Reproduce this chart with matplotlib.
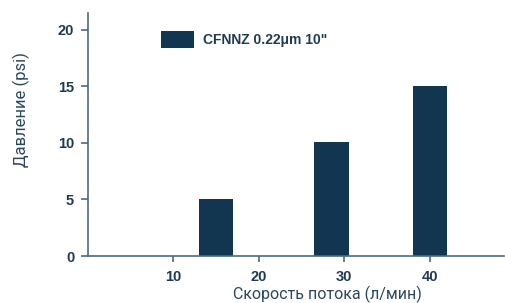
import matplotlib
matplotlib.use('Agg')
import matplotlib.pyplot as plt

# flow rate (l/min) and pressure drop (psi)
flow = [15, 28.5, 40]
pressure = [5, 10.1, 15]
series_name = 'CFNNZ 0.22μm 10"'
x_ticks = [10, 20, 30, 40]
y_ticks = [0, 5, 10, 15, 20]

bar_color = '#12364f'
axis_color = '#4d6a80'
text_color = '#1f3b52'

fig = plt.figure(figsize=(5.05, 3.03), dpi=100)
ax = fig.add_axes([0.1743, 0.155, 0.8237, 0.803])

ax.bar(flow, pressure, width=4, color=bar_color, label=series_name)

ax.set_xlim(0, 48.7)
ax.set_ylim(0, 21.5)
ax.set_xticks(x_ticks)
ax.set_yticks(y_ticks)

for side in ['top', 'right']:
    ax.spines[side].set_visible(False)
for side in ['left', 'bottom']:
    ax.spines[side].set_color(axis_color)
    ax.spines[side].set_linewidth(1.2)

ax.tick_params(axis='x', length=4, width=1.2, color=axis_color, pad=6)
ax.tick_params(axis='y', length=5, width=1.2, color=axis_color, pad=5)
for lbl in ax.get_xticklabels() + ax.get_yticklabels():
    lbl.set_fontfamily('Liberation Sans')
    lbl.set_fontweight('bold')
    lbl.set_fontsize(10.5)
    lbl.set_color(text_color)

ax.set_xlabel('Скорость потока (л/мин)', fontfamily='Roboto', fontsize=11.5,
              color='#2b475c')
ax.xaxis.set_label_coords(0.575, -0.122)
ax.set_ylabel('Давление (psi)', fontfamily='Roboto', fontsize=12,
              color='#2b475c')
ax.yaxis.set_label_coords(-0.14, 0.6)

leg = ax.legend(loc='upper left', bbox_to_anchor=(0.145, 0.975), frameon=False,
                handlelength=2.4, handleheight=1.5, handletextpad=0.6,
                prop={'family': 'Liberation Sans', 'weight': 'bold', 'size': 10})
for t in leg.get_texts():
    t.set_color(text_color)

fig.savefig('out.png', dpi=100)
